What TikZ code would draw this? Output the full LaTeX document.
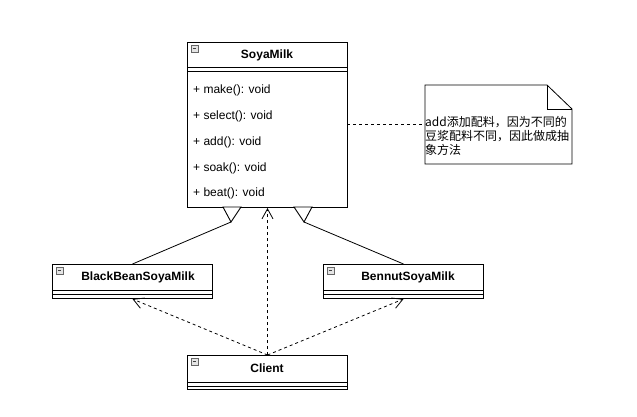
\documentclass[tikz,border=0pt]{standalone}
\usepackage{fontspec}
\setmainfont{Liberation Sans}
\newfontfamily\cjk{Noto Sans CJK SC}
\usetikzlibrary{arrows.meta}
\tikzset{
  classbox/.style={draw=black, line width=1pt, fill=white, anchor=north west, inner sep=0pt},
  classname/.style={font=\fontsize{12}{14}\selectfont\bfseries, inner sep=0pt},
  member/.style={font=\fontsize{12}{14}\selectfont, anchor=west, inner sep=0pt},
  sepline/.style={line width=1pt},
  icon/.style={draw=black!60, fill=gray!20, line width=0.6pt},
  inherit/.style={line width=0.8pt},
  hollowtri/.style={draw=black, fill=white, line width=0.9pt, line join=miter},
  depend/.style={dashed, line width=0.8pt, -{Straight Barb[length=10pt, width=11pt, line width=0.8pt]}},
  notebox/.style={draw=black, fill=white, line width=0.8pt},
  notetext/.style={font=\cjk\fontsize{12}{14}\selectfont, align=left, anchor=north west, inner sep=0pt},
  notelink/.style={dashed, line width=0.8pt}
}
\newcommand{\classicon}[2]{%
  \draw[icon] (#1,#2) rectangle ++(7,7);
  \draw[line width=0.8pt, black!75] (#1+1.8,#2+3.5) -- ++(3.4,0);
}
\begin{document}
\begin{tikzpicture}[x=1pt, y=-1pt]
\useasboundingbox (0,0) rectangle (637,416);
\fill[white] (0,0) rectangle (637,416);

% SoyaMilk
\node[classbox, minimum width=160pt, minimum height=165pt] (soya) at (187,42) {};
\node[classname] (soyaname) at (267,55) {SoyaMilk};
\draw[sepline] (187,67) -- (347,67);
\draw[sepline] (187,71) -- (347,71);
\classicon{191}{45}
\node[member] (m1) at (193,90) {+ make(): void};
\node[member] (m2) at (193,116) {+ select(): void};
\node[member] (m3) at (193,142) {+ add(): void};
\node[member] (m4) at (193,168) {+ soak(): void};
\node[member] (m5) at (193,193) {+ beat(): void};

% BlackBeanSoyaMilk
\node[classbox, minimum width=160pt, minimum height=34pt] (bb) at (52,264) {};
\node[classname] (bbname) at (138,277) {BlackBeanSoyaMilk};
\draw[sepline] (52,290) -- (212,290);
\draw[sepline] (52,294) -- (212,294);
\classicon{56}{267}

% BennutSoyaMilk
\node[classbox, minimum width=160pt, minimum height=34pt] (bn) at (323,264) {};
\node[classname] (bnname) at (408,277) {BennutSoyaMilk};
\draw[sepline] (323,290) -- (483,290);
\draw[sepline] (323,294) -- (483,294);
\classicon{327}{267}

% Client
\node[classbox, minimum width=160pt, minimum height=34pt] (cl) at (187,355) {};
\node[classname] (clname) at (267,368) {Client};
\draw[sepline] (187,382) -- (347,382);
\draw[sepline] (187,386) -- (347,386);
\classicon{191}{358}

% Note
\coordinate (nA) at (425,85);
\coordinate (nB) at (547,85);
\coordinate (nC) at (572,109);
\coordinate (nD) at (572,164);
\coordinate (nE) at (425,164);
\draw[notebox] (nA) -- (nB) -- (nC) -- (nD) -- (nE) -- cycle;
\draw[line width=0.8pt] (nB) -- (547,109) -- (nC);
\node[notetext] (note) at (425,116) {add添加配料，因为不同的\\豆浆配料不同，因此做成抽\\象方法};
\coordinate (noteL) at (425,124);
\coordinate (soyaR) at (347,124);
\draw[notelink] (soyaR) -- (noteL);

% Inheritance
\coordinate (t1) at (231,222);
\coordinate (t2) at (304,222);
\draw[inherit] (bb.north) -- (t1);
\draw[inherit] (bn.north) -- (t2);
\draw[hollowtri] (223,207) -- (t1) -- (241,207) -- cycle;
\draw[hollowtri] (294,207) -- (t2) -- (312,207) -- cycle;

% Dependencies
\draw[depend] (cl.north) -- (soya.south);
\draw[depend] (cl.north) -- (bb.south);
\draw[depend] (cl.north) -- (bn.south);
\end{tikzpicture}
\end{document}
